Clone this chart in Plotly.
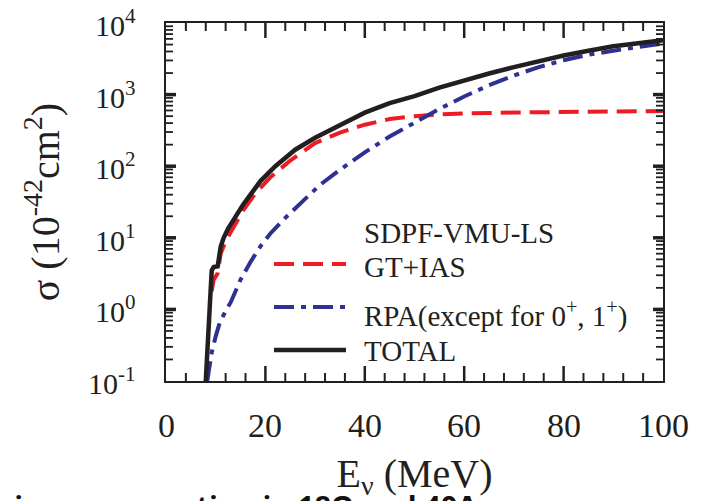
import plotly.graph_objects as go

# ---- data ----
E_total = [8.0, 8.4, 8.8, 9.2, 9.6, 10.4, 11.0, 11.6, 12.5, 14.0, 15.5, 17.0, 19.0, 22.0,
           26.0, 30.0, 35.0, 40.0, 45.0, 50.0, 55.0, 60.0, 65.0, 70.0, 75.0, 80.0, 85.0,
           90.0, 95.0, 100.0]
sigma_total = [0.1, 0.4, 1.3, 3.5, 3.9, 4.0, 7.5, 10, 13.5, 20, 29, 40, 62, 100,
               170, 250, 380, 560, 760, 950, 1250, 1580, 1970, 2420, 2930, 3520, 4090,
               4720, 5210, 5750]

E_gt = [9.2, 9.6, 10.4, 11.0, 12.0, 13.5, 15.5, 18.0, 21.0, 25.0, 30.0, 35.0, 40.0,
        45.0, 50.0, 55.0, 60.0, 70.0, 80.0, 90.0, 100.0]
sigma_gt = [1.8, 2.6, 3.2, 6.0, 9.0, 14, 24, 42, 70, 120, 210, 295, 380,
            455, 500, 528, 545, 562, 575, 583, 590]

E_rpa = [8.3, 8.8, 9.2, 10.0, 10.8, 12.0, 13.0, 15.0, 17.0, 19.0, 21.0, 24.0, 27.5,
         31.0, 35.0, 40.0, 45.0, 50.0, 55.0, 60.0, 65.0, 70.0, 75.0, 80.0, 85.0, 90.0,
         95.0, 100.0]
sigma_rpa = [0.1, 0.16, 0.25, 0.42, 0.65, 0.95, 1.25, 2.6, 4.6, 7.6, 11.5, 19, 33,
             55, 89, 156, 260, 410, 630, 940, 1350, 1850, 2420, 3015, 3600, 4100,
             4635, 5180]

x_major = [0, 20, 40, 60, 80, 100]
x_ticktext = ["0", "20", "40", "60", "80", "100"]
x_minor = [v for v in range(0, 101, 4) if v % 20]
y_decades = [-1, 0, 1, 2, 3, 4]
y_tickvals = [0.1, 1, 10, 100, 1000, 10000]
y_ticktext = ["10<sup>-1</sup>", "10<sup>0</sup>", "10<sup>1</sup>",
              "10<sup>2</sup>", "10<sup>3</sup>", "10<sup>4</sup>"]
y_minor = [m * 10.0 ** k for k in range(-1, 4) for m in range(2, 10)]

legend_header = "SDPF-VMU-LS"
names = ["GT+IAS", "RPA(except for 0<sup>+</sup>, 1<sup>+</sup>)", "TOTAL"]

RED = "#ED1C24"
BLUE = "#2E3192"
BLACK = "#231F20"
SERIF = "Liberation Serif, Times New Roman, serif"

W, H = 704, 501
L, R, T, B = 166, 663, 23, 381
XMIN, XMAX = 0, 100
YMIN, YMAX = 0.1, 10000
PX_PER_X = (R - L) / (XMAX - XMIN)
PX_PER_DECADE = (B - T) / 5


def px(x):
    return (x - L) / (R - L)


def py(y):
    return (B - y) / (B - T)


fig = go.Figure()
fig.add_trace(go.Scatter(x=E_gt, y=sigma_gt, mode="lines", name=names[0],
                         line=dict(color=RED, width=4, dash="20px,9px")))
fig.add_trace(go.Scatter(x=E_rpa, y=sigma_rpa, mode="lines", name=names[1],
                         line=dict(color=BLUE, width=4, dash="20px,7px,5px,7px")))
fig.add_trace(go.Scatter(x=E_total, y=sigma_total, mode="lines", name=names[2],
                         line=dict(color=BLACK, width=4.5)))


# inward tick marks on all four sides, drawn on the chart's own scales
def tick_trace(xs, ys, width):
    fig.add_trace(go.Scatter(x=xs, y=ys, mode="lines", hoverinfo="skip", showlegend=False,
                             cliponaxis=False, line=dict(color=BLACK, width=width)))


def x_ticks(vals, length_px, width):
    f = 10 ** (length_px / PX_PER_DECADE)
    xs, ys = [], []
    for v in vals:
        xs += [v, v, None, v, v, None]
        ys += [YMIN, YMIN * f, None, YMAX, YMAX / f, None]
    tick_trace(xs, ys, width)


def y_ticks(vals, length_px, width):
    d = length_px / PX_PER_X
    xs, ys = [], []
    for v in vals:
        xs += [XMIN, XMIN + d, None, XMAX, XMAX - d, None]
        ys += [v, v, None, v, v, None]
    tick_trace(xs, ys, width)


x_ticks(x_major[1:-1], 15, 2.5)
x_ticks(x_minor, 8, 2)
y_ticks(y_tickvals[1:-1], 10, 3.5)
y_ticks(y_minor, 7, 1.8)

fig.update_layout(
    width=W, height=H,
    margin=dict(l=L, r=W - R, t=T, b=H - B, autoexpand=False),
    paper_bgcolor="white", plot_bgcolor="white",
    showlegend=False,
    font=dict(family=SERIF, color=BLACK),
    xaxis=dict(
        range=[XMIN, XMAX], tickmode="array", tickvals=x_major, automargin=False,
        ticks="", showline=True, linecolor=BLACK, linewidth=1.5, mirror=True,
        showgrid=False, zeroline=False, showticklabels=False,
        title=dict(text="E<sub>ν</sub> (MeV)", font=dict(family=SERIF, size=40, color=BLACK),
                   standoff=85),
    ),
    yaxis=dict(
        type="log", range=[-1, 4], automargin=False,
        tickmode="array", tickvals=y_tickvals,
        ticks="", showline=True, linecolor=BLACK, linewidth=1.5, mirror=True,
        showgrid=False, zeroline=False, showticklabels=False,
        title=dict(text="σ (10<sup>-42</sup>cm<sup>2</sup>)",
                   font=dict(family=SERIF, size=40, color=BLACK), standoff=92),
    ),
)

# tick labels, set away from the axes as in the reference
for v, t in zip(x_major, x_ticktext):
    fig.add_annotation(text=t, xref="x", x=v, yref="paper", y=py(425), xanchor="center",
                       yanchor="middle", showarrow=False,
                       font=dict(family=SERIF, size=34, color=BLACK))
for d, t in zip(y_decades, y_ticktext):
    fig.add_annotation(text=t, xref="paper", x=px(138), yref="paper",
                       y=(d - y_decades[0]) / (y_decades[-1] - y_decades[0]),
                       xanchor="right", yanchor="middle", showarrow=False,
                       font=dict(family=SERIF, size=30, color=BLACK))

# legend drawn as samples + labels
leg_font = dict(family=SERIF, size=29, color=BLACK)
fig.add_annotation(text=legend_header, xref="paper", yref="paper", x=px(362), y=py(233),
                   xanchor="left", yanchor="middle", showarrow=False, font=leg_font)
rows = [(RED, "20px,9px", 4, 264, 267),
        (BLUE, "20px,7px,5px,7px", 4, 307, 314),
        (BLACK, "solid", 4.5, 350, 351)]
for (col, dash, wdt, ys, yt), nm in zip(rows, names):
    fig.add_shape(type="line", xref="paper", yref="paper", x0=px(274), x1=px(346),
                  y0=py(ys), y1=py(ys), line=dict(color=col, width=wdt, dash=dash))
    fig.add_annotation(text=nm, xref="paper", yref="paper", x=px(362), y=py(yt),
                       xanchor="left", yanchor="middle", showarrow=False, font=leg_font)

# clipped caption at the bottom of the page
fig.add_annotation(text="<b>rino cross section in 18O and 40Ar</b>", xref="paper", yref="paper",
                   x=px(-1), y=py(505), xanchor="left", yanchor="middle", showarrow=False,
                   font=dict(family="Open Sans, sans-serif", size=29, color="#111111"))

fig.write_html("out.html")
